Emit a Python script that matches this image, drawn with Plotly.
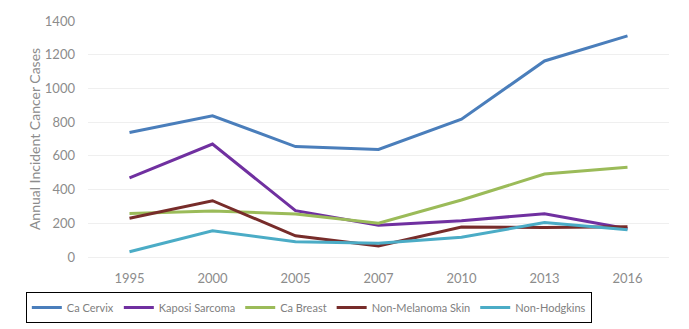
import plotly.graph_objects as go

years = ["1995", "2000", "2005", "2007", "2010", "2013", "2016"]
ca_cervix = [738, 838, 655, 638, 817, 1163, 1312]
kaposi = [470, 670, 275, 188, 215, 257, 168]
ca_breast = [258, 273, 255, 200, 338, 492, 532]
non_melanoma = [230, 334, 126, 65, 178, 175, 180]
non_hodgkins = [31, 155, 91, 82, 117, 204, 162]

series = [
    ("Ca Cervix", ca_cervix, "#4A7EBB"),
    ("Kaposi Sarcoma", kaposi, "#7030A0"),
    ("Ca Breast", ca_breast, "#9BBB59"),
    ("Non-Melanoma Skin", non_melanoma, "#772C2A"),
    ("Non-Hodgkins", non_hodgkins, "#4BACC6"),
]

fig = go.Figure()
for name, vals, col in series:
    fig.add_trace(go.Scatter(x=years, y=vals, name=name, mode="lines",
                             line=dict(color=col, width=3)))

font = "Lato, Open Sans, sans-serif"
fig.update_layout(
    width=689, height=329,
    margin=dict(l=88, r=20, t=21, b=72, autoexpand=False),
    paper_bgcolor="white", plot_bgcolor="white",
    font=dict(family=font, size=13, color="#808080"),
    showlegend=True,
    legend=dict(orientation="h", x=-0.107, y=-0.148, xanchor="left", yanchor="top",
                bordercolor="black", borderwidth=1,
                font=dict(family=font, size=11, color="#808080"),
                itemwidth=30, tracegroupgap=0),
    xaxis=dict(type="category", range=[-0.5, 6.5], showgrid=False, showline=False, ticks="",
               automargin=False, ticklabelstandoff=12,
               tickfont=dict(size=13, color="#8c8c8c")),
    yaxis=dict(range=[0, 1400], dtick=200, showgrid=True, gridcolor="#efefef",
               zeroline=True, zerolinecolor="#efefef", zerolinewidth=1,
               automargin=False, ticklabelstandoff=12,
               tickfont=dict(size=13, color="#8c8c8c"),
               title=dict(text="Annual Incident Cancer Cases", standoff=0,
                          font=dict(size=14, color="#8c8c8c"))),
)
fig.write_html("out.html")
